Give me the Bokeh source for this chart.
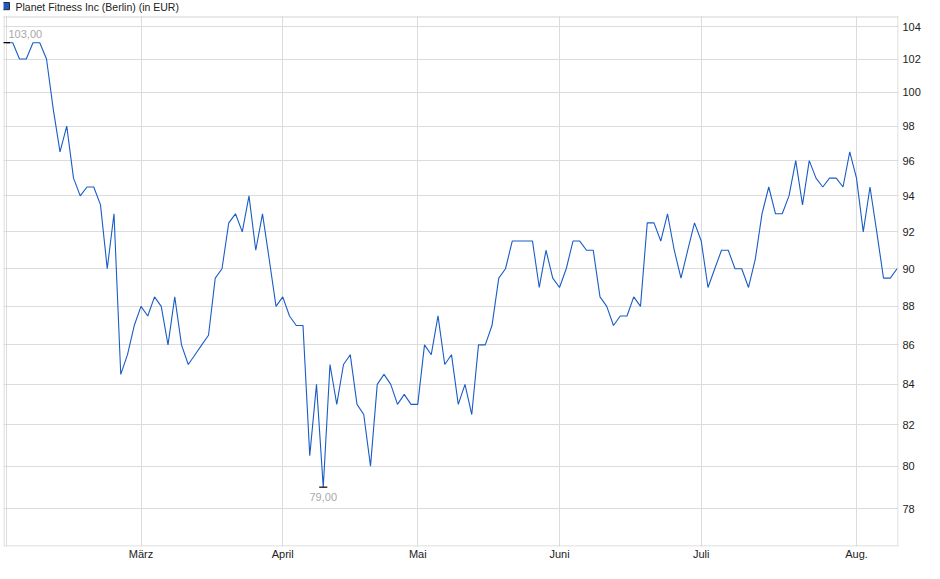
import numpy as np
from bokeh.plotting import figure
from bokeh.models import Range1d, FixedTicker, Label, BasicTickFormatter
from bokeh.core.properties import value
from bokeh.embed import file_html
from bokeh.resources import INLINE

# ---- data ----
title_text = "Planet Fitness Inc (Berlin) (in EUR)"

# daily closing prices in EUR, trading days from early February to mid August
prices = [
    103, 103, 102, 102, 103, 103, 102, 99, 96.5, 98,
    95, 94, 94.5, 94.5, 93.5, 90, 93, 84.5, 85.5, 87,
    88, 87.5, 88.5, 88, 86, 88.5, 86, 85, 85.5, 86,
    86.5, 89.5, 90, 92.5, 93, 92, 94, 91, 93, 90.5,
    88, 88.5, 87.5, 87, 87, 80.5, 84, 79, 85, 83,
    85, 85.5, 83, 82.5, 80, 84, 84.5, 84, 83, 83.5,
    83, 83, 86, 85.5, 87.5, 85, 85.5, 83, 84, 82.5,
    86, 86, 87, 89.5, 90, 91.5, 91.5, 91.5, 91.5, 89,
    91, 89.5, 89, 90, 91.5, 91.5, 91, 91, 88.5, 88,
    87, 87.5, 87.5, 88.5, 88, 92.5, 92.5, 91.5, 93, 91,
    89.5, 91, 92.5, 91.5, 89, 90, 91, 91, 90, 90,
    89, 90.5, 93, 94.5, 93, 93, 94, 96, 93.5, 96,
    95, 94.5, 95, 95, 94.5, 96.5, 95, 92, 94.5, 92,
    89.5, 89.5, 90,
]

# month starts (trading-day index) and their labels
month_ticks = [0, 20, 41, 61, 82, 103, 126]
month_labels = ["", "März", "April", "Mai", "Juni", "Juli", "Aug."]

# price axis ticks
price_ticks = [78, 80, 82, 84, 86, 88, 90, 92, 94, 96, 98, 100, 102, 104]

# ---- styling / layout ----
LINE_BLUE = "#1a5cc6"
GRID = "#dcdcdc"
EDGE = "#d4d4d4"
TEXT = "#222222"
NOTE = "#a9a9a9"
FONT = "Liberation Sans"

FRAME_W, FRAME_H = 895, 546      # drawing area incl. the header strip
HEADER = 16                      # header strip (title) height in px
DAY_PX, DAY0_PX = 6.75, 2.5      # px per trading day, px of day 0 from frame left
Y_REF, Y_REF_PX, Y_PX_PER_LN = 104.0, 26.0, 1675.5   # log-scale calibration

def x_at(px):
    """data x for a pixel offset from frame left"""
    return (px - DAY0_PX) / DAY_PX

def y_at(px):
    """data y (log scale) for a pixel offset from frame top"""
    return Y_REF * np.exp((Y_REF_PX - px) / Y_PX_PER_LN)

days = np.arange(len(prices))
vals = np.array(prices, dtype=float)

xs, xe = x_at(0), x_at(FRAME_W)
yt, yb = y_at(0), y_at(FRAME_H)

p = figure(
    title=None,
    frame_width=FRAME_W, frame_height=FRAME_H,
    min_border_left=3, min_border_top=0, min_border_right=34, min_border_bottom=19,
    y_axis_type="log", y_axis_location="right",
    x_range=Range1d(xs, xe), y_range=Range1d(yb, yt),
    output_backend="svg", toolbar_location=None,
)
p.background_fill_color = "white"
p.border_fill_color = "white"
p.outline_line_color = None

# x axis: month labels
p.xaxis.ticker = FixedTicker(ticks=month_ticks)
p.xaxis.major_label_overrides = {t: l for t, l in zip(month_ticks, month_labels)}
p.xaxis.axis_line_color = None
p.xaxis.major_tick_line_color = None
p.xaxis.minor_tick_line_color = None
p.xaxis.major_tick_out = 0
p.xaxis.major_tick_in = 0
p.xaxis.minor_tick_out = 0
p.xaxis.major_label_standoff = 1
p.xaxis.major_label_text_font = FONT
p.xaxis.major_label_text_font_size = "11px"
p.xaxis.major_label_text_color = TEXT

# y axis: prices on the right, log scale
p.yaxis.ticker = FixedTicker(ticks=price_ticks)
p.yaxis.formatter = BasicTickFormatter(use_scientific=False)
p.yaxis.axis_line_color = None
p.yaxis.major_tick_line_color = None
p.yaxis.minor_tick_line_color = None
p.yaxis.major_tick_out = 0
p.yaxis.major_tick_in = 0
p.yaxis.minor_tick_out = 0
p.yaxis.major_label_standoff = 4
p.yaxis.major_label_text_font = FONT
p.yaxis.major_label_text_font_size = "11px"
p.yaxis.major_label_text_color = TEXT

p.xgrid.grid_line_color = GRID
p.ygrid.grid_line_color = GRID

# header strip: hide grid there, then draw the visible chart border
p.quad(left=[xs], right=[xe], top=[yt], bottom=[y_at(HEADER)], fill_color="white", line_color=None)
p.segment(x0=[xs, x_at(0.5), x_at(FRAME_W - 0.5), xs],
          y0=[y_at(HEADER + 0.5), y_at(HEADER), y_at(HEADER), y_at(FRAME_H - 0.5)],
          x1=[xe, x_at(0.5), x_at(FRAME_W - 0.5), xe],
          y1=[y_at(HEADER + 0.5), yb, yb, y_at(FRAME_H - 0.5)],
          line_color=EDGE, line_width=1)

# price line
p.line(days, vals, line_color=LINE_BLUE, line_width=1.1)

# max / min markers
imax = int(np.argmax(vals))
imin = int(np.argmin(vals))
vmax = vals[imax]
vmin = vals[imin]
p.segment(x0=[imax - 0.6, imin - 0.6], y0=[vmax, vmin], x1=[imax + 0.6, imin + 0.6], y1=[vmax, vmin],
          line_color="black", line_width=1.2)

p.add_layout(Label(x=imax, y=vmax, text=f"{vmax:.2f}".replace(".", ","), x_offset=2.5, y_offset=9,
                   text_align="left", text_baseline="middle", text_font=FONT,
                   text_font_size="11px", text_color=NOTE))
p.add_layout(Label(x=imin, y=vmin, text=f"{vmin:.2f}".replace(".", ","), x_offset=0, y_offset=-10,
                   text_align="center", text_baseline="middle", text_font=FONT,
                   text_font_size="11px", text_color=NOTE))

# legend-like title in the header strip: swatch + series name
p.quad(left=[x_at(-1.2)], right=[x_at(6)], top=[y_at(2)], bottom=[y_at(9.2)],
       fill_color="#1c5cc4", line_color="#2a2a2a", line_width=1)
p.text(x=[x_at(12)], y=[y_at(6)], text=[title_text], text_align="left", text_baseline="middle",
       text_font=value(FONT), text_font_size="10.5px", text_color=TEXT)

open("out.html", "w").write(file_html(p, INLINE))
